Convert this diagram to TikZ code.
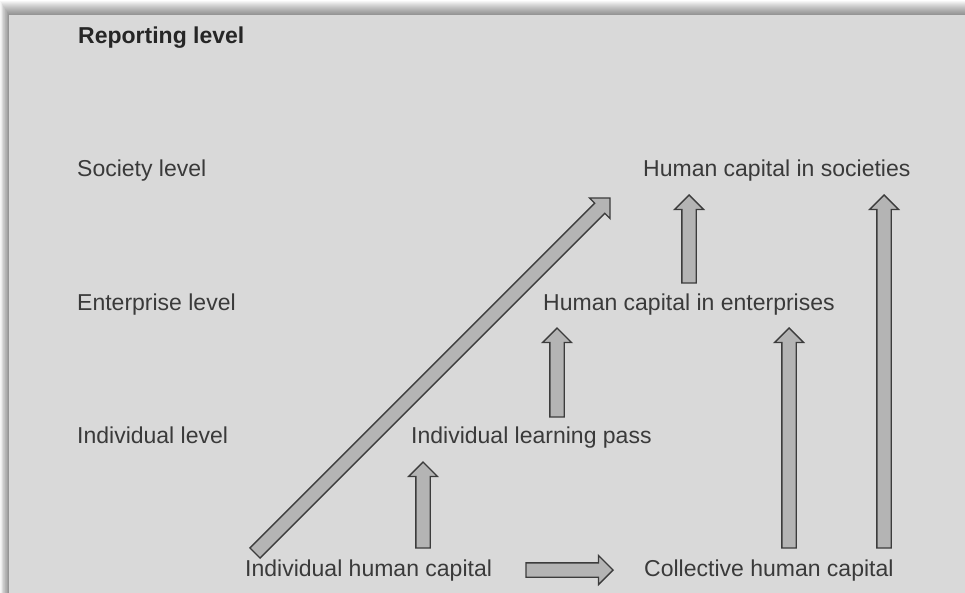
\documentclass[tikz,border=0pt]{standalone}
\usepackage{fontspec}
\setmainfont{Liberation Sans}
\usetikzlibrary{calc}
\definecolor{panel}{HTML}{D9D9D9}
\definecolor{txt}{HTML}{3A3A3A}
\definecolor{arrfill}{HTML}{B4B4B4}
\definecolor{arrline}{HTML}{3C3C3C}
\tikzset{
  lbl/.style={anchor=base west, inner sep=0pt, text=txt, font=\fontsize{23}{27}\selectfont},
  blockarrow/.style={draw=arrline, fill=arrfill, line width=1.4pt, line join=miter},
}
\newcommand\blockarr[2]{%
  \coordinate (hb) at ($(#2)!14.5pt!(#1)$);
  \draw[blockarrow] ($(#1)!7.2pt!-90:(#2)$) -- ($(hb)!7.2pt!90:(#1)$) -- ($(hb)!14.5pt!90:(#1)$) -- (#2)
     -- ($(hb)!14.5pt!-90:(#1)$) -- ($(hb)!7.2pt!-90:(#1)$) -- ($(#1)!7.2pt!90:(#2)$) -- cycle;}
\begin{document}
\begin{tikzpicture}[x=1pt,y=-1pt]
\useasboundingbox (0,0) rectangle (965,593);
\fill[white] (0,0) rectangle (965,593);
\foreach \i in {0,...,14}{
  \fill[black,opacity=0.034] ({9-\i*0.62},{15-\i}) rectangle (980,610);
}
\fill[panel] (9,15) rectangle (980,610);
% labels
\node[lbl, font=\fontsize{23}{27}\selectfont\bfseries, text=black!85] (rep) at (78,44) {Reporting level};
\node[lbl] (soc) at (77,177) {Society level};
\node[lbl] (ent) at (77,310) {Enterprise level};
\node[lbl] (ind) at (77,443) {Individual level};
\node[lbl] (hcs) at (643,177) {Human capital in societies};
\node[lbl] (hce) at (543,310) {Human capital in enterprises};
\node[lbl] (ilp) at (411,443) {Individual learning pass};
\node[lbl] (ihc) at (245,576) {Individual human capital};
\node[lbl] (chc) at (644,576) {Collective human capital};
% arrow ends
\coordinate (d1a) at (255,553); \coordinate (d1b) at (610,198);
\coordinate (v1a) at (423,548); \coordinate (v1b) at (423,462);
\coordinate (v2a) at (557,417); \coordinate (v2b) at (557,328);
\coordinate (h1a) at (526,570); \coordinate (h1b) at (613,570);
\coordinate (v3a) at (689,283); \coordinate (v3b) at (689,195);
\coordinate (v4a) at (789,548); \coordinate (v4b) at (789,328);
\coordinate (v5a) at (884,548); \coordinate (v5b) at (884,195);
\blockarr{d1a}{d1b}
\blockarr{v1a}{v1b}
\blockarr{v2a}{v2b}
\blockarr{h1a}{h1b}
\blockarr{v3a}{v3b}
\blockarr{v4a}{v4b}
\blockarr{v5a}{v5b}
\end{tikzpicture}
\end{document}
